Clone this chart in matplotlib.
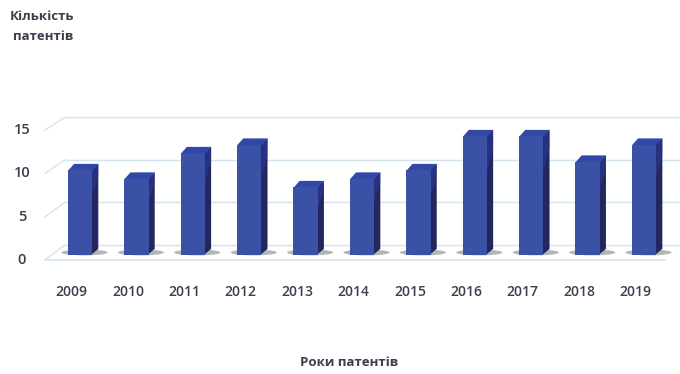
import matplotlib.pyplot as plt
from matplotlib.patches import Polygon, Ellipse, Rectangle

plt.rcParams['font.family'] = ['Open Sans', 'DejaVu Sans']

years = ['2009', '2010', '2011', '2012', '2013', '2014', '2015', '2016', '2017', '2018', '2019']
patents = [10, 9, 12, 13, 8, 9, 10, 14, 14, 11, 13]
yticks = [0, 5, 10, 15]

front_col = '#3b51a6'
top_col = '#3248a6'
side_col = '#232760'
side_hi = '#2d3894'
grid_col = '#d3e4f1'
text_col = '#3a3f4c'

fig = plt.figure(figsize=(6.8, 3.74), dpi=100)
ax = fig.add_axes([0, 0, 1, 1])
ax.set_xlim(-1.418, 10.638)
ax.set_ylim(-14, 30)
ax.axis('off')

w = 0.43      # front face width
dx = 0.11     # depth offset, x
dy = 0.72     # depth offset, y
back = 1.2    # back wall shift
wall_x0 = -0.266
front_x0 = -0.62
ov = 0.02     # overlap so faces join without a seam

# back wall gridlines and the slanted side wall lines
for v in yticks:
    ax.plot([wall_x0, 10.7], [v + back, v + back], color=grid_col, lw=1.0, zorder=1)
    fy = v * 1.02 - 0.6
    ax.plot([front_x0, wall_x0], [fy, v + back], color=grid_col, lw=1.0, zorder=1)
# floor front edge
ax.plot([front_x0, 10.37], [-0.6, -0.6], color=grid_col, lw=1.2, zorder=1)

for i, v in enumerate(patents):
    x0 = i - w / 2
    x1 = i + w / 2
    # shadow on the floor
    ax.add_patch(Ellipse((i + 0.08, 0.3), 0.82, 0.7, color='#858585', alpha=0.6, lw=0, zorder=2))
    # side face, with a lighter band near the top
    ax.add_patch(Polygon([(x1 - ov, 0), (x1 + dx, dy), (x1 + dx, v + dy), (x1 - ov, v)],
                         closed=True, color=side_col, lw=0, zorder=3))
    ax.add_patch(Polygon([(x1, v), (x1 + dx, v + dy), (x1 + dx, v * 0.85 + dy), (x1, v * 0.7)],
                         closed=True, color=side_hi, alpha=0.6, lw=0, zorder=3))
    # top face
    ax.add_patch(Polygon([(x0, v - 0.1), (x1, v - 0.1), (x1 + dx, v + dy), (x0 + dx, v + dy)],
                         closed=True, color=top_col, lw=0, zorder=3))
    # front face
    ax.add_patch(Rectangle((x0, 0), w, v, facecolor=front_col, edgecolor='none', zorder=4))
    ax.text(i - 0.15, -4.35, years[i], ha='center', va='center', fontsize=10,
            fontweight='semibold', color=text_col)

for v in yticks:
    ax.text(-1.03, v * 1.02 - 0.6, str(v), ha='center', va='center', fontsize=10.5,
            fontweight='semibold', color=text_col)

fig.text(0.062, 0.955, 'Кількість', ha='center', va='center', fontsize=9.5,
         fontweight='bold', color=text_col)
fig.text(0.064, 0.903, 'патентів', ha='center', va='center', fontsize=9.5,
         fontweight='bold', color=text_col)
fig.text(0.513, 0.032, 'Роки патентів', ha='center', va='center', fontsize=9.5,
         fontweight='bold', color=text_col)

fig.savefig('out.png', dpi=100)
